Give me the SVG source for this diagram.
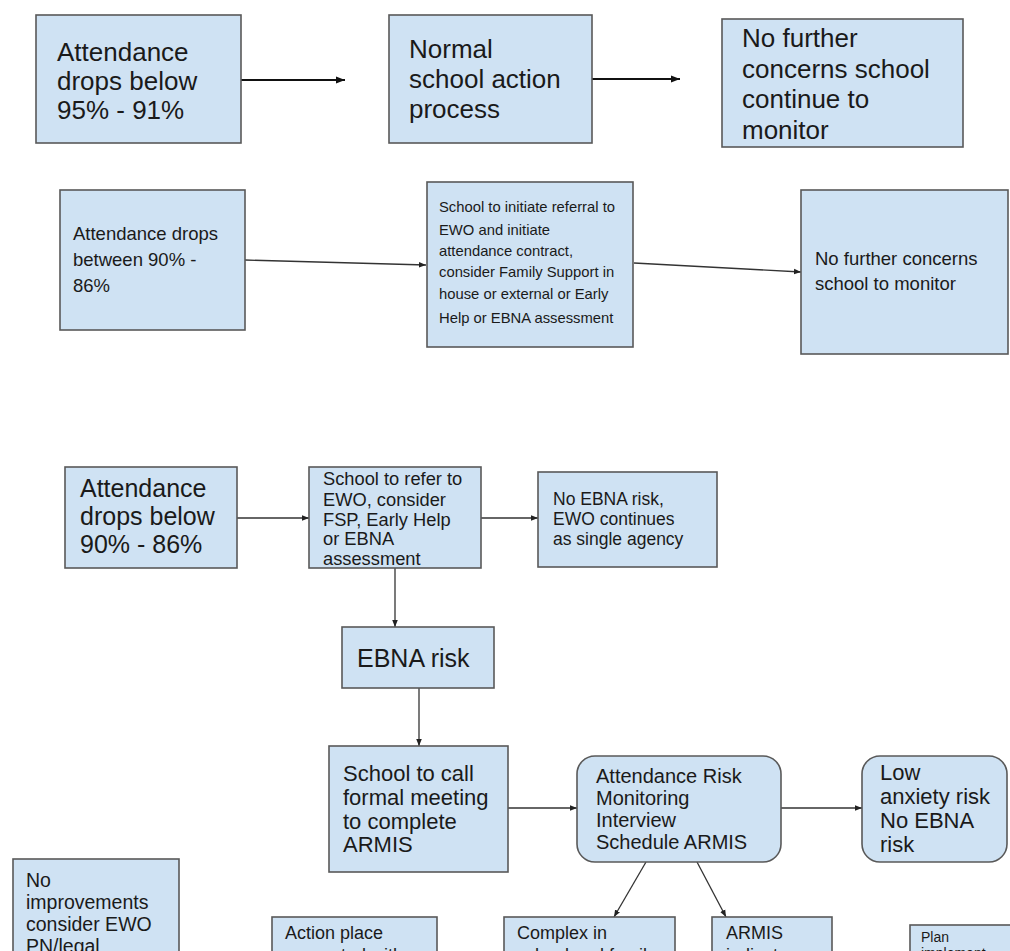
<svg xmlns="http://www.w3.org/2000/svg" width="1010" height="951" viewBox="0 0 1010 951">
<style>
.box{fill:#cfe2f3;stroke:#595959;stroke-width:1.6}
.t{font-family:"Liberation Sans",Arial,sans-serif;fill:#1a1a1a}
.ln{stroke:#333;stroke-width:1.3;fill:none}
.lnb{stroke:#111;stroke-width:2;fill:none}
</style>
<defs>
<marker id="ah" viewBox="0 0 10 10" refX="10" refY="5" markerWidth="7" markerHeight="7" markerUnits="userSpaceOnUse" orient="auto">
<path d="M0,1 L10,5 L0,9 z" fill="#222"/>
</marker>
<marker id="ahb" viewBox="0 0 10 10" refX="10" refY="5" markerWidth="10" markerHeight="9" markerUnits="userSpaceOnUse" orient="auto">
<path d="M0,1 L10,5 L0,9 z" fill="#111"/>
</marker>
</defs>
<rect width="1010" height="951" fill="#fff"/>

<g id="connectors">
<line class="lnb" x1="241" y1="80" x2="345" y2="80" marker-end="url(#ahb)"/>
<line class="lnb" x1="592" y1="79" x2="680" y2="79" marker-end="url(#ahb)"/>
<line class="ln" x1="245" y1="260" x2="426" y2="265" marker-end="url(#ah)"/>
<line class="ln" x1="634" y1="263" x2="801" y2="272" marker-end="url(#ah)"/>
<line class="ln" x1="237" y1="518" x2="309" y2="518" marker-end="url(#ah)"/>
<line class="ln" x1="481" y1="518" x2="538" y2="518" marker-end="url(#ah)"/>
<line class="ln" x1="395" y1="568" x2="395" y2="627" marker-end="url(#ah)"/>
<line class="ln" x1="419" y1="688" x2="419" y2="746" marker-end="url(#ah)"/>
<line class="ln" x1="508" y1="808" x2="577" y2="808" marker-end="url(#ah)"/>
<line class="ln" x1="781" y1="808" x2="862" y2="808" marker-end="url(#ah)"/>
<line class="ln" x1="646" y1="862" x2="614" y2="917" marker-end="url(#ah)"/>
<line class="ln" x1="697" y1="862" x2="726" y2="917" marker-end="url(#ah)"/>
</g>

<g id="n-b1">
<rect class="box" x="36" y="15" width="205" height="128"/>
<text class="t" font-size="26"><tspan x="57" y="61">Attendance</tspan><tspan x="57" y="90">drops below</tspan><tspan x="57" y="119">95% - 91%</tspan></text>
</g>
<g id="n-b2">
<rect class="box" x="389" y="15" width="203" height="128"/>
<text class="t" font-size="26"><tspan x="409" y="58">Normal</tspan><tspan x="409" y="88">school action</tspan><tspan x="409" y="118">process</tspan></text>
</g>
<g id="n-b3">
<rect class="box" x="722" y="19" width="241" height="128"/>
<text class="t" font-size="26"><tspan x="742" y="47">No further</tspan><tspan x="742" y="78">concerns school</tspan><tspan x="742" y="108">continue to</tspan><tspan x="742" y="139">monitor</tspan></text>
</g>

<g id="n-c1">
<rect class="box" x="60" y="190" width="185" height="140"/>
<text class="t" font-size="18.5"><tspan x="73" y="240">Attendance drops</tspan><tspan x="73" y="266">between 90% -</tspan><tspan x="73" y="292">86%</tspan></text>
</g>
<g id="n-c2">
<rect class="box" x="427" y="182" width="206" height="165"/>
<text class="t" font-size="14.8"><tspan x="439" y="212">School to initiate referral to</tspan><tspan x="439" y="235">EWO and initiate</tspan><tspan x="439" y="256">attendance contract,</tspan><tspan x="439" y="277">consider Family Support in</tspan><tspan x="439" y="299">house or external or Early</tspan><tspan x="439" y="323">Help or EBNA assessment</tspan></text>
</g>
<g id="n-c3">
<rect class="box" x="801" y="190" width="207" height="164"/>
<text class="t" font-size="18.5"><tspan x="815" y="265">No further concerns</tspan><tspan x="815" y="290">school to monitor</tspan></text>
</g>

<g id="n-d1">
<rect class="box" x="65" y="467" width="172" height="101"/>
<text class="t" font-size="25"><tspan x="80" y="497">Attendance</tspan><tspan x="80" y="525">drops below</tspan><tspan x="80" y="553">90% - 86%</tspan></text>
</g>
<g id="n-d2">
<rect class="box" x="309" y="467" width="172" height="101"/>
<text class="t" font-size="18.3"><tspan x="323" y="485">School to refer to</tspan><tspan x="323" y="506">EWO, consider</tspan><tspan x="323" y="526">FSP, Early Help</tspan><tspan x="323" y="545">or EBNA</tspan><tspan x="323" y="565">assessment</tspan></text>
</g>
<g id="n-d3">
<rect class="box" x="538" y="472" width="179" height="95"/>
<text class="t" font-size="17.5"><tspan x="553" y="505">No EBNA risk,</tspan><tspan x="553" y="525">EWO continues</tspan><tspan x="553" y="545">as single agency</tspan></text>
</g>

<g id="n-ebna">
<rect class="box" x="342" y="627" width="152" height="61"/>
<text class="t" font-size="25" x="357" y="667">EBNA risk</text>
</g>
<g id="n-e1">
<rect class="box" x="329" y="746" width="179" height="126"/>
<text class="t" font-size="22"><tspan x="343" y="781">School to call</tspan><tspan x="343" y="805">formal meeting</tspan><tspan x="343" y="829">to complete</tspan><tspan x="343" y="852">ARMIS</tspan></text>
</g>
<g id="n-e2">
<rect class="box" x="577" y="756" width="204" height="106" rx="18"/>
<text class="t" font-size="20"><tspan x="596" y="783">Attendance Risk</tspan><tspan x="596" y="805">Monitoring</tspan><tspan x="596" y="827">Interview</tspan><tspan x="596" y="849">Schedule ARMIS</tspan></text>
</g>
<g id="n-e3">
<rect class="box" x="862" y="756" width="145" height="106" rx="18"/>
<text class="t" font-size="22"><tspan x="880" y="780">Low</tspan><tspan x="880" y="804">anxiety risk</tspan><tspan x="880" y="828">No EBNA</tspan><tspan x="880" y="852">risk</tspan></text>
</g>

<g id="n-f0">
<rect class="box" x="13" y="859" width="166" height="110"/>
<text class="t" font-size="19.5"><tspan x="26" y="887">No</tspan><tspan x="26" y="909">improvements</tspan><tspan x="26" y="931">consider EWO</tspan><tspan x="26" y="953">PN/legal</tspan></text>
</g>
<g id="n-f1">
<rect class="box" x="272" y="917" width="165" height="60"/>
<text class="t" font-size="18"><tspan x="285" y="939">Action place</tspan><tspan x="285" y="961">generated with</tspan></text>
</g>
<g id="n-f2">
<rect class="box" x="504" y="917" width="171" height="60"/>
<text class="t" font-size="18"><tspan x="517" y="939">Complex in</tspan><tspan x="517" y="961">school and family</tspan></text>
</g>
<g id="n-f3">
<rect class="box" x="712" y="917" width="120" height="60"/>
<text class="t" font-size="18"><tspan x="726" y="939">ARMIS</tspan><tspan x="726" y="961">indicates</tspan></text>
</g>
<g id="n-f4">
<rect class="box" x="910" y="925" width="120" height="50"/>
<text class="t" font-size="14"><tspan x="921" y="942">Plan</tspan><tspan x="921" y="958">implement</tspan></text>
</g>
</svg>
